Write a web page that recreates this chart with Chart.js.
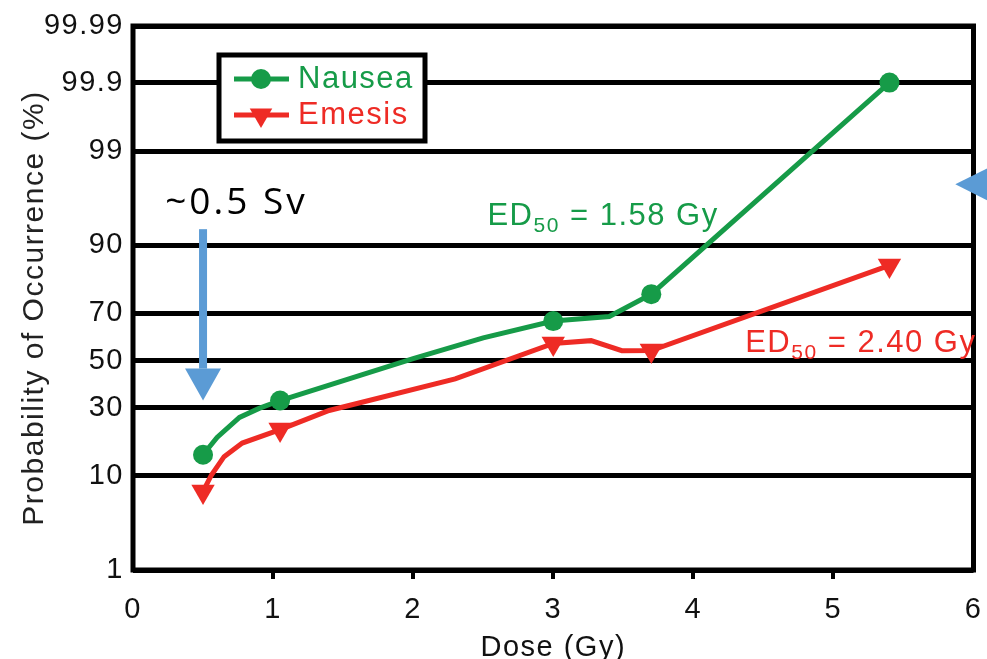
<!DOCTYPE html>
<html>
<head>
<meta charset="utf-8">
<script src="https://cdn.jsdelivr.net/npm/chart.js@4.4.1/dist/chart.umd.min.js"></script>
<style>
  html, body { margin: 0; padding: 0; overflow: hidden; background: #fff; }
  canvas { display: block; }
</style>
</head>
<body>
<canvas id="chart" width="987" height="680"></canvas>
<script>
// probability axis ticks (%)
const Y_TICKS = [1, 10, 30, 50, 70, 90, 99, 99.9, 99.99];
const Y_TICK_LABELS = ['1', '10', '30', '50', '70', '90', '99', '99.9', '99.99'];

// Nausea: dose (Gy) / probability (%), markers only on measured points
const NAUSEA_DOSE = [0.5, 0.6, 0.76, 0.9, 1.05, 2.0, 2.5, 3.0, 3.4, 3.7, 5.4];
const NAUSEA_PCT = [14.8, 19.7, 26.4, 29.8, 32.9, 50.9, 60.0, 67.0, 68.8, 77.0, 99.9];
const NAUSEA_MARK = [1, 0, 0, 0, 1, 0, 0, 1, 0, 1, 1];

// Emesis
const EMESIS_DOSE = [0.5, 0.56, 0.65, 0.78, 1.05, 1.4, 2.3, 3.0, 3.27, 3.49, 3.7, 5.4];
const EMESIS_PCT = [7.3, 10.2, 14.3, 18.0, 22.2, 29.0, 42.0, 57.6, 58.8, 54.4, 54.5, 85.5];
const EMESIS_MARK = [1, 0, 0, 0, 1, 0, 0, 1, 0, 0, 1, 1];

const GREEN = '#169b48';
const RED = '#ee2b25';
const BLUE = '#5b9bd5';
const FONT = '"Liberation Sans", Arial, Helvetica, sans-serif';

// inverse normal CDF (Acklam) -> probit scale
function probit(p) {
  const a = [-39.69683028665376, 220.9460984245205, -275.9285104469687, 138.3577518672690, -30.66479806614716, 2.506628277459239];
  const b = [-54.47609879822406, 161.5858368580409, -155.6989798598866, 66.80131188771972, -13.28068155288572];
  const c = [-0.007784894002430293, -0.3223964580411365, -2.400758277161838, -2.549732539343734, 4.374664141464968, 2.938163982698783];
  const d = [0.007784695709041462, 0.3224671290700398, 2.445134137142996, 3.754408661907416];
  const pl = 0.02425;
  let q, r;
  if (p < pl) {
    q = Math.sqrt(-2 * Math.log(p));
    return (((((c[0] * q + c[1]) * q + c[2]) * q + c[3]) * q + c[4]) * q + c[5]) /
      ((((d[0] * q + d[1]) * q + d[2]) * q + d[3]) * q + 1);
  }
  if (p > 1 - pl) {
    q = Math.sqrt(-2 * Math.log(1 - p));
    return -(((((c[0] * q + c[1]) * q + c[2]) * q + c[3]) * q + c[4]) * q + c[5]) /
      ((((d[0] * q + d[1]) * q + d[2]) * q + d[3]) * q + 1);
  }
  q = p - 0.5;
  r = q * q;
  return (((((a[0] * r + a[1]) * r + a[2]) * r + a[3]) * r + a[4]) * r + a[5]) * q /
    (((((b[0] * r + b[1]) * r + b[2]) * r + b[3]) * r + b[4]) * r + 1);
}
const pz = (pct) => probit(pct / 100);

const points = (xs, ys) => xs.map((x, i) => ({ x, y: pz(ys[i]) }));

// annotation anchors, in data units (dose, %)
const SV_LABEL = { x: 0.23, y: 94.9, text: '~0.5 Sv' };
const SV_ARROW = { x: 0.5, from: 92.8, head: 46.5, to: 32.9 };
const SIDE_ARROW = { x: 5.87, y: 97.5 };
const ED_NAUSEA = { x: 2.53, y: 93.4, value: ' = 1.58 Gy' };
const ED_EMESIS = { x: 4.37, y: 54.0, value: ' = 2.40 Gy' };
const Y_TITLE = 'Probability of Occurrence (%)';

function drawED(ctx, x, y, color, rest) {
  ctx.fillStyle = color;
  ctx.textAlign = 'left';
  ctx.textBaseline = 'alphabetic';
  ctx.font = `31px ${FONT}`;
  ctx.fillText('ED', x, y);
  let w = ctx.measureText('ED').width;
  ctx.font = `21px ${FONT}`;
  ctx.fillText('50', x + w, y + 7);
  w += ctx.measureText('50').width;
  ctx.font = `31px ${FONT}`;
  ctx.fillText(rest, x + w, y);
}

const decor = {
  id: 'decor',
  beforeDraw(chart) {
    // the source lettering is set a little loose
    chart.ctx.letterSpacing = '1.5px';
  },
  beforeDatasetsDraw(chart) {
    const { ctx, chartArea: a } = chart;
    ctx.save();
    ctx.strokeStyle = '#000';
    ctx.lineWidth = 5;
    ctx.strokeRect(a.left, a.top, a.right - a.left, a.bottom - a.top);
    ctx.restore();
  },
  afterDraw(chart) {
    const { ctx, chartArea: a } = chart;
    const xs = chart.scales.x;
    const ys = chart.scales.y;
    ctx.save();
    ctx.letterSpacing = '1.5px';

    // y axis title
    ctx.save();
    ctx.translate(35, (a.top + a.bottom) / 2 + 10);
    ctx.rotate(-Math.PI / 2);
    ctx.fillStyle = '#222';
    ctx.font = `30px ${FONT}`;
    ctx.textAlign = 'center';
    ctx.textBaseline = 'middle';
    ctx.fillText(Y_TITLE, 0, 0);
    ctx.restore();

    // legend box
    const lx = a.left + 86, ly = a.top + 29, lw = 206, lh = 86;
    ctx.fillStyle = '#fff';
    ctx.fillRect(lx, ly, lw, lh);
    ctx.lineWidth = 5;
    ctx.strokeStyle = '#000';
    ctx.strokeRect(lx, ly, lw, lh);
    chart.data.datasets.forEach((ds, i) => {
      const yy = ly + 24 + i * 36;
      ctx.strokeStyle = ds.borderColor;
      ctx.fillStyle = ds.borderColor;
      ctx.lineWidth = 5;
      ctx.beginPath();
      ctx.moveTo(lx + 15, yy);
      ctx.lineTo(lx + 70, yy);
      ctx.stroke();
      Chart.helpers.drawPoint(ctx, {
        pointStyle: ds.pointStyle, rotation: ds.pointRotation || 0,
        radius: i === 0 ? 10 : 13, borderWidth: 0
      }, lx + 42, yy);
      ctx.fillStyle = ds.borderColor;
      ctx.font = `31px ${FONT}`;
      ctx.textAlign = 'left';
      ctx.textBaseline = 'middle';
      ctx.fillText(ds.label, lx + 79, yy);
    });

    // ED50 labels
    drawED(ctx, xs.getPixelForValue(ED_NAUSEA.x), ys.getPixelForValue(pz(ED_NAUSEA.y)), GREEN, ED_NAUSEA.value);
    drawED(ctx, xs.getPixelForValue(ED_EMESIS.x), ys.getPixelForValue(pz(ED_EMESIS.y)), RED, ED_EMESIS.value);

    // ~0.5 Sv label and arrow
    ctx.fillStyle = '#000';
    ctx.font = '37px "Open Sans", Lato, sans-serif';
    ctx.letterSpacing = '3px';
    ctx.textAlign = 'left';
    ctx.textBaseline = 'alphabetic';
    ctx.fillText(SV_LABEL.text, xs.getPixelForValue(SV_LABEL.x), ys.getPixelForValue(pz(SV_LABEL.y)));

    const ax = xs.getPixelForValue(SV_ARROW.x);
    const y0 = ys.getPixelForValue(pz(SV_ARROW.from));
    const y1 = ys.getPixelForValue(pz(SV_ARROW.head));
    const y2 = ys.getPixelForValue(pz(SV_ARROW.to));
    ctx.fillStyle = BLUE;
    ctx.fillRect(ax - 4, y0, 8, y1 - y0);
    ctx.beginPath();
    ctx.moveTo(ax - 18, y1);
    ctx.lineTo(ax + 18, y1);
    ctx.lineTo(ax, y2);
    ctx.closePath();
    ctx.fill();

    // side arrow head (cut by the edge)
    const sx = xs.getPixelForValue(SIDE_ARROW.x);
    const sy = ys.getPixelForValue(pz(SIDE_ARROW.y));
    ctx.beginPath();
    ctx.moveTo(sx, sy);
    ctx.lineTo(sx + 46, sy - 23);
    ctx.lineTo(sx + 46, sy + 23);
    ctx.closePath();
    ctx.fill();

    ctx.restore();
  }
};

Chart.defaults.font.family = FONT;

new Chart(document.getElementById('chart'), {
  type: 'line',
  data: {
    datasets: [
      {
        label: 'Nausea',
        data: points(NAUSEA_DOSE, NAUSEA_PCT),
        borderColor: GREEN,
        backgroundColor: GREEN,
        borderWidth: 5,
        pointStyle: 'circle',
        pointRadius: NAUSEA_MARK.map((m) => (m ? 10 : 0)),
        pointBorderWidth: 0,
        tension: 0,
        clip: false
      },
      {
        label: 'Emesis',
        data: points(EMESIS_DOSE, EMESIS_PCT),
        borderColor: RED,
        backgroundColor: RED,
        borderWidth: 5,
        pointStyle: 'triangle',
        pointRotation: 180,
        pointRadius: EMESIS_MARK.map((m) => (m ? 13.5 : 0)),
        pointBorderWidth: 0,
        tension: 0,
        clip: false
      }
    ]
  },
  options: {
    responsive: false,
    animation: false,
    events: [],
    layout: { padding: { left: 0, top: 26, right: 12, bottom: 0 } },
    plugins: {
      legend: { display: false },
      tooltip: { enabled: false }
    },
    scales: {
      x: {
        type: 'linear',
        min: 0,
        max: 6,
        afterFit: (s) => {
          s.height = 110;
          s.paddingLeft = 0;
          s.paddingRight = 0;
        },
        border: { display: false },
        grid: {
          drawOnChartArea: false,
          drawTicks: true,
          tickLength: 9,
          lineWidth: 4,
          color: (c) => (c.tick && (c.tick.value === 0 || c.tick.value === 6) ? 'rgba(0,0,0,0)' : '#000')
        },
        ticks: {
          stepSize: 1,
          padding: 14,
          maxRotation: 0,
          color: '#111',
          font: { size: 29 }
        },
        title: {
          display: true,
          text: 'Dose (Gy)',
          color: '#111',
          font: { size: 29 },
          padding: { top: 0, bottom: 15 }
        }
      },
      y: {
        type: 'linear',
        min: pz(1),
        max: pz(99.99),
        afterFit: (s) => {
          s.width = 133;
          s.paddingTop = 0;
          s.paddingBottom = 0;
        },
        afterBuildTicks: (s) => { s.ticks = Y_TICKS.map((v) => ({ value: pz(v) })); },
        border: { display: false },
        grid: { color: '#000', lineWidth: 5, drawTicks: false },
        ticks: {
          padding: 9,
          color: '#111',
          font: { size: 29 },
          callback: (v, i) => Y_TICK_LABELS[i]
        },
        title: { display: false }
      }
    }
  },
  plugins: [decor]
});
</script>
</body>
</html>
